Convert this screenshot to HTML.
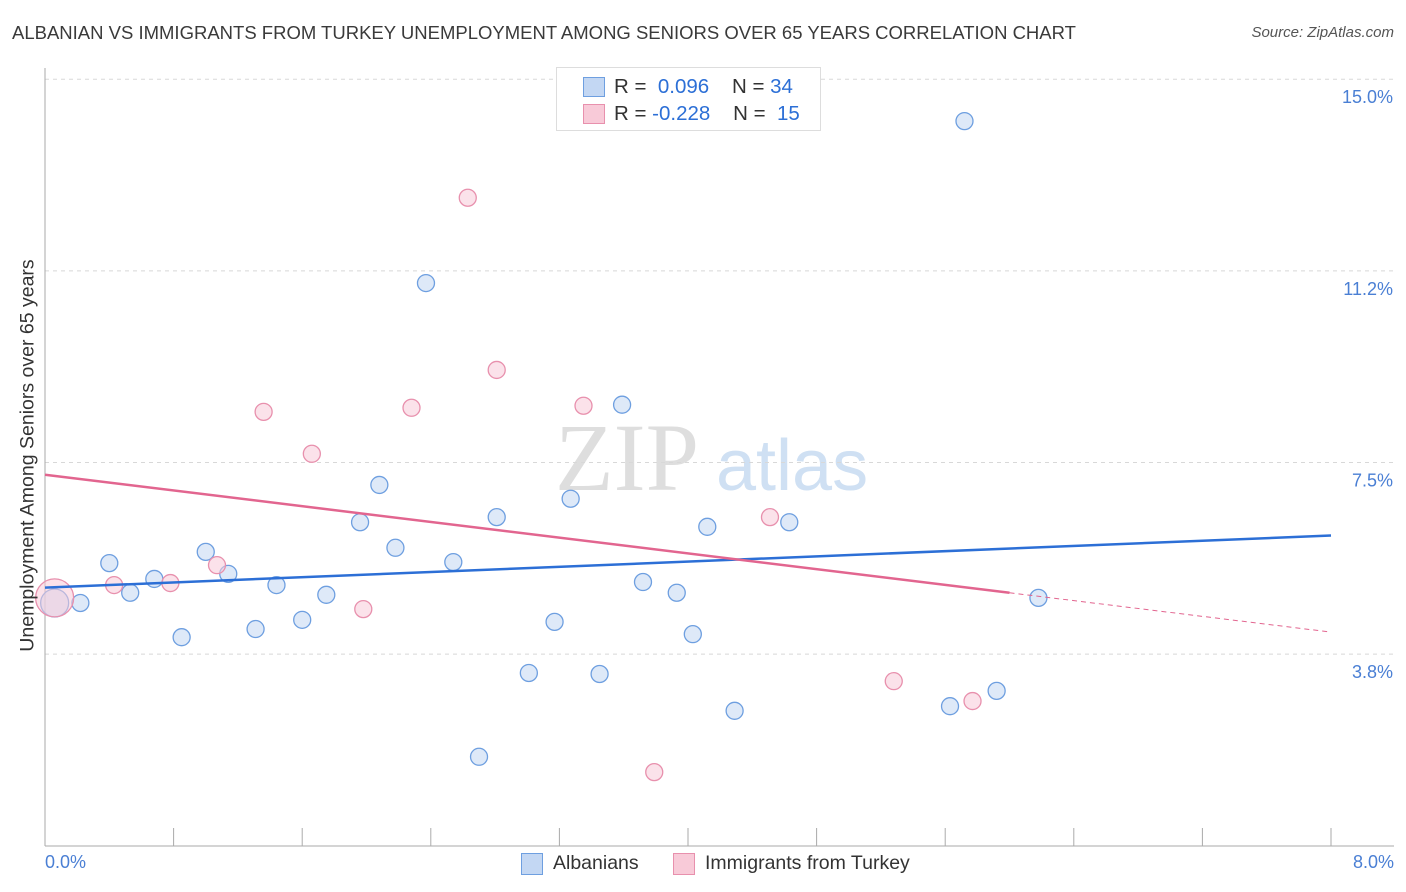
<!DOCTYPE html>
<html><head><meta charset="utf-8">
<style>
body{margin:0;background:#fff;font-family:"Liberation Sans",sans-serif;}
#wrap{position:relative;width:1406px;height:892px;overflow:hidden;}
.t{position:absolute;white-space:nowrap;}
</style></head><body>
<div id="wrap">
<div class="t" style="left:12px;top:22px;font-size:18.5px;color:#3a3a3a;">ALBANIAN VS IMMIGRANTS FROM TURKEY UNEMPLOYMENT AMONG SENIORS OVER 65 YEARS CORRELATION CHART</div>
<div class="t" style="right:12px;top:24px;font-size:15px;color:#555;font-style:italic;">Source: ZipAtlas.com</div>
<svg id="svg" width="1406" height="892" style="position:absolute;left:0;top:0"></svg>
</div>
<script>
const xTicks=[0,0.8,1.6,2.4,3.2,4.0,4.8,5.6,6.4,7.2,8.0];
const yTicks=[3.75,7.5,11.25,15.0];
const yTickLabels=["3.8%","7.5%","11.2%","15.0%"];
const blueX=[0.06,0.22,0.40,0.53,0.68,0.85,1.00,1.14,1.31,1.44,1.60,1.75,1.96,2.08,2.18,2.37,2.54,2.70,2.81,3.01,3.17,3.27,3.45,3.59,3.72,3.93,4.03,4.12,4.29,4.63,5.63,5.72,5.92,6.18];
const blueY=[4.75,4.75,5.53,4.95,5.22,4.08,5.75,5.32,4.24,5.10,4.42,4.91,6.33,7.06,5.83,11.01,5.55,1.74,6.43,3.38,4.38,6.79,3.36,8.63,5.16,4.95,4.14,6.24,2.64,6.33,2.73,14.18,3.03,4.85];
const pinkX=[0.06,0.43,0.78,1.07,1.36,1.66,1.98,2.28,2.63,2.81,3.35,3.79,4.51,5.28,5.77];
const pinkY=[4.85,5.10,5.14,5.49,8.49,7.67,4.63,8.57,12.68,9.31,8.61,1.44,6.43,3.22,2.83];
const blueTrend=[5.05,6.07];   // y at x=0 and x=8
const pinkTrend=[7.26,4.18];   // y at x=0 and x=8, solid until 6.0
const pinkSolidEnd=6.0;
const X=v=>45+v*160.75, Y=v=>845.7-v*51.1;
const svg=document.getElementById('svg');
const NS='http://www.w3.org/2000/svg';
function mk(tag,a,parent){const e=document.createElementNS(NS,tag);for(const k in a)e.setAttribute(k,a[k]);(parent||svg).appendChild(e);return e;}
let wm=mk('text',{x:555,y:490,'font-size':96,fill:'#dedede','font-family':'Liberation Serif, serif'});wm.textContent='ZIP';


let wm2=mk('text',{x:716,y:490,'font-size':72,fill:'#cfe0f3','font-family':'Liberation Sans, sans-serif'});wm2.textContent='atlas';


yTicks.forEach((t,i)=>{
 const g=mk('line',{x1:45,x2:1394,y1:Y(t),y2:Y(t),stroke:'#d8d8d8','stroke-dasharray':'4,4'});
 
 
 const tx=mk('text',{x:1393,y:Y(t)+24,'text-anchor':'end','font-size':18,fill:'#4a7fd4'});tx.textContent=yTickLabels[i];
 
 
});
mk('line',{x1:45,x2:45,y1:68,y2:846,stroke:'#aaa'});
mk('line',{x1:45,x2:1394,y1:846,y2:846,stroke:'#aaa'});
xTicks.forEach(t=>{const l=mk('line',{x1:X(t),x2:X(t),y1:828,y2:846,stroke:'#aaa'});
 
 });
function dot(x,y,r,fill,stroke,name){const c=mk('circle',{cx:X(x),cy:Y(y),r:r,fill:fill,stroke:stroke,'stroke-width':1.3,'fill-opacity':0.55});
 
 }
blueX.forEach((x,i)=>dot(x,blueY[i],i===0?14:8.5,'#c3d7f3','#6e9fe0','albanian-point'));
pinkX.forEach((x,i)=>dot(x,pinkY[i],i===0?19:8.5,'#f8cad8','#e890ad','turkey-point'));
const bl=mk('line',{x1:X(0),y1:Y(blueTrend[0]),x2:X(8),y2:Y(blueTrend[1]),stroke:'#2c6fd6','stroke-width':2.5});


const ps=pinkTrend[0]+(pinkTrend[1]-pinkTrend[0])*pinkSolidEnd/8;
const pl=mk('line',{x1:X(0),y1:Y(pinkTrend[0]),x2:X(pinkSolidEnd),y2:Y(ps),stroke:'#e2658f','stroke-width':2.5});


const pd=mk('line',{x1:X(pinkSolidEnd),y1:Y(ps),x2:X(8),y2:Y(pinkTrend[1]),stroke:'#e2658f','stroke-width':1,'stroke-dasharray':'5,4'});


</script>
<div class="t" style="left:45px;top:852px;font-size:18px;color:#4a7fd4;">0.0%</div>
<div class="t" style="right:12px;top:852px;font-size:18px;color:#4a7fd4;">8.0%</div>
<div class="t" style="left:-172px;top:444px;font-size:19.5px;color:#333;transform:rotate(-90deg);width:400px;text-align:center;">Unemployment Among Seniors over 65 years</div>
<div style="position:absolute;left:556px;top:67px;width:263px;height:62px;border:1px solid #ddd;background:#fff;font-size:20.5px;">
 <div style="position:absolute;left:26px;top:9px;width:20px;height:18px;background:#c3d7f3;border:1px solid #6e9fe0;"></div>
 <div class="t" style="left:57px;top:7px;color:#333;">R = <span style="color:#2c6fd6">&nbsp;0.096</span>&nbsp;&nbsp;&nbsp; N = <span style="color:#2c6fd6">34</span></div>
 <div style="position:absolute;left:26px;top:36px;width:20px;height:18px;background:#f8cad8;border:1px solid #e890ad;"></div>
 <div class="t" style="left:57px;top:34px;color:#333;">R = <span style="color:#2c6fd6">-0.228</span>&nbsp;&nbsp;&nbsp; N = <span style="color:#2c6fd6">&nbsp;15</span></div>
</div>
<div style="position:absolute;left:521px;top:853px;width:20px;height:20px;background:#c3d7f3;border:1px solid #6e9fe0;"></div>
<div class="t" style="left:553px;top:852px;font-size:19.5px;color:#333;">Albanians</div>
<div style="position:absolute;left:673px;top:853px;width:20px;height:20px;background:#f8cad8;border:1px solid #e890ad;"></div>
<div class="t" style="left:705px;top:852px;font-size:19.5px;color:#333;">Immigrants from Turkey</div>
</body></html>
